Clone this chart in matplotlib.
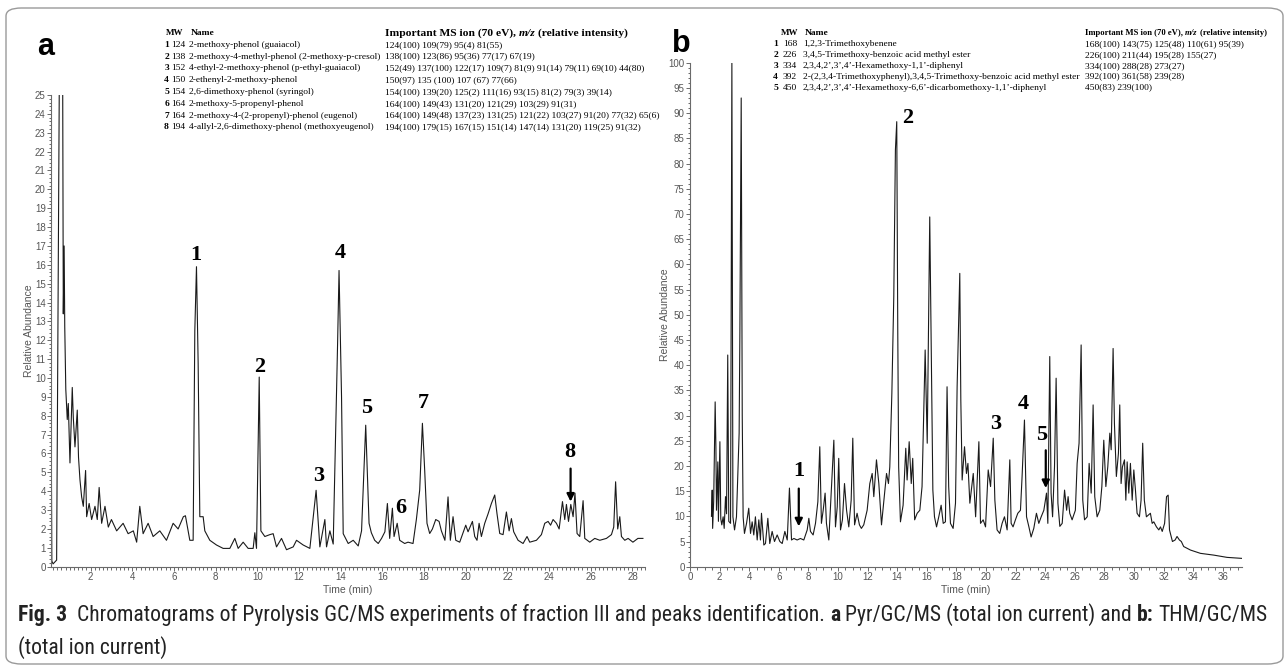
import matplotlib
matplotlib.use("Agg")
import matplotlib.pyplot as plt
from matplotlib import font_manager
from matplotlib.patches import FancyBboxPatch
from matplotlib.ticker import MultipleLocator

W, H = 1285, 668

# ---- data ----
# panel a : Pyr/GC/MS (time in min, relative abundance)
a_time = [0.1, 0.14, 0.2, 0.37, 0.5, 0.66, 0.69, 0.73, 0.76, 0.81, 0.88, 0.93, 1.01, 1.12, 1.17,
          1.25, 1.36, 1.42, 1.49, 1.57, 1.65, 1.76, 1.81, 1.93, 2.05, 2.21, 2.32, 2.41, 2.53, 2.69,
          2.85, 3.0, 3.25, 3.56, 3.8, 4.05, 4.21, 4.36, 4.52, 4.76, 5.0, 5.32, 5.64, 5.96, 6.2,
          6.45, 6.55, 6.76, 6.92, 7.0, 7.08, 7.16, 7.24, 7.4, 7.48, 7.72, 8.04, 8.36, 8.68, 8.92,
          9.08, 9.32, 9.56, 9.8, 9.88, 9.96, 10.09, 10.17, 10.36, 10.6, 10.76, 10.92, 11.16, 11.4,
          11.72, 11.88, 12.2, 12.52, 12.82, 13.0, 13.24, 13.32, 13.48, 13.64, 13.85, 13.92, 14.04,
          14.12, 14.36, 14.6, 14.84, 15.0, 15.2, 15.36, 15.47, 15.63, 15.8, 15.96, 16.12, 16.24,
          16.35, 16.48, 16.56, 16.71, 16.83, 17.07, 17.23, 17.47, 17.63, 17.79, 17.92, 18.03,
          18.14, 18.27, 18.4, 18.56, 18.72, 18.83, 19.0, 19.15, 19.26, 19.39, 19.52, 19.71, 20.0,
          20.11, 20.32, 20.43, 20.54, 20.64, 20.75, 20.91, 21.07, 21.23, 21.39, 21.5, 21.63, 21.79,
          21.95, 22.08, 22.19, 22.3, 22.51, 22.75, 22.94, 23.07, 23.39, 23.63, 23.79, 23.95, 24.07,
          24.19, 24.35, 24.48, 24.64, 24.75, 24.83, 24.93, 25.04, 25.15, 25.24, 25.34, 25.47,
          25.63, 25.71, 25.95, 26.19, 26.43, 26.75, 26.99, 27.1, 27.19, 27.29, 27.39, 27.47,
          27.63, 27.79, 28.02, 28.26, 28.5]
a_abund = [9.4, 0.3, 0.15, 0.35, 26.0, 26.0, 13.4, 17.0, 12.7, 9.4, 7.8, 8.65, 5.5, 9.5, 7.9,
           6.35, 8.3, 5.8, 4.6, 3.7, 3.2, 5.1, 2.65, 3.35, 2.5, 3.2, 2.5, 4.2, 2.3, 3.2,
           2.1, 2.5, 1.9, 2.3, 1.75, 1.9, 1.3, 3.2, 1.75, 2.3, 1.6, 1.9, 1.4, 2.3, 2.0,
           2.65, 2.7, 1.4, 1.4, 12.5, 15.9, 10.8, 2.65, 2.65, 1.9, 1.4, 1.15, 0.97, 0.97, 1.5,
           0.97, 1.3, 0.97, 0.97, 1.8, 0.97, 10.05, 1.9, 1.6, 1.7, 1.75, 1.05, 1.5, 0.9,
           1.05, 1.4, 1.15, 0.97, 4.05, 1.05, 2.5, 1.05, 1.9, 1.2, 11.8, 15.7, 9.0,
           1.75, 1.23, 1.4, 1.1, 1.9, 7.5, 2.3, 1.8, 1.4, 1.23, 1.5, 1.85, 3.35,
           1.5, 3.1, 1.6, 2.3, 1.4, 1.23, 1.3, 1.23, 2.5, 4.06, 7.6, 5.1,
           2.3, 1.76, 2.0, 2.5, 2.4, 1.9, 1.4, 3.7, 1.4, 2.65, 1.4, 1.3, 2.2,
           1.85, 2.4, 1.6, 1.4, 2.3, 1.6, 2.3, 2.8, 3.35, 3.8, 2.8, 1.76, 1.7,
           2.9, 1.9, 2.55, 1.85, 1.4, 1.23, 1.6, 1.3, 1.4, 1.7, 2.3, 2.4, 2.2,
           2.5, 2.3, 2.0, 3.45, 2.5, 3.3, 2.4, 3.3, 2.65, 3.9, 1.76, 1.6,
           3.5, 1.5, 1.3, 1.5, 1.4, 1.5, 1.7, 2.1, 4.5, 2.0, 2.65, 1.6,
           1.4, 1.5, 1.3, 1.5, 1.5]

# panel b : THM/GC/MS
b_time = [1.45, 1.5, 1.53, 1.6, 1.7, 1.75, 1.79, 1.88, 1.92, 2.02, 2.08, 2.15, 2.24, 2.31, 2.4,
          2.47, 2.55, 2.62, 2.74, 2.83, 2.9, 3.01, 3.14, 3.32, 3.37, 3.46, 3.53, 3.59, 3.68, 3.82,
          3.97, 4.09, 4.2, 4.31, 4.42, 4.54, 4.65, 4.76, 4.83, 4.99, 5.1, 5.26, 5.39, 5.55, 5.71,
          5.89, 6.07, 6.23, 6.41, 6.57, 6.72, 6.86, 7.02, 7.24, 7.46, 7.69, 7.92, 8.03, 8.14, 8.32,
          8.48, 8.64, 8.77, 8.88, 9.0, 9.13, 9.22, 9.38, 9.54, 9.72, 9.83, 9.95, 10.05, 10.17,
          10.3, 10.44, 10.58, 10.73, 10.89, 11.0, 11.12, 11.29, 11.45, 11.58, 11.74, 11.97, 12.15,
          12.31, 12.42, 12.6, 12.76, 12.94, 13.1, 13.28, 13.41, 13.5, 13.64, 13.77, 13.88, 13.97,
          14.04, 14.1, 14.22, 14.4, 14.58, 14.67, 14.81, 14.95, 15.05, 15.18, 15.35, 15.53, 15.68,
          15.89, 16.03, 16.2, 16.29, 16.41, 16.52, 16.66, 16.81, 16.97, 17.11, 17.26, 17.37, 17.48,
          17.6, 17.78, 17.94, 18.05, 18.23, 18.3, 18.39, 18.55, 18.68, 18.78, 18.91, 19.14, 19.3,
          19.52, 19.63, 19.81, 19.97, 20.15, 20.31, 20.49, 20.6, 20.75, 20.93, 21.09, 21.25, 21.43,
          21.61, 21.7, 21.83, 21.99, 22.15, 22.33, 22.44, 22.6, 22.74, 22.9, 23.05, 23.23, 23.41,
          23.57, 23.73, 23.91, 24.09, 24.18, 24.31, 24.4, 24.5, 24.63, 24.74, 24.86, 24.99, 25.15,
          25.31, 25.45, 25.55, 25.66, 25.82, 26.04, 26.16, 26.29, 26.43, 26.54, 26.66, 26.84,
          26.97, 27.11, 27.24, 27.35, 27.51, 27.69, 27.83, 27.96, 28.1, 28.23, 28.37, 28.46,
          28.59, 28.68, 28.81, 28.95, 29.04, 29.13, 29.22, 29.36, 29.45, 29.54, 29.65, 29.76,
          29.88, 29.99, 30.1, 30.21, 30.37, 30.48, 30.59, 30.7, 30.84, 31.0, 31.11, 31.23, 31.34,
          31.52, 31.68, 31.79, 31.91, 32.07, 32.2, 32.31, 32.4, 32.6, 32.78, 32.91, 33.07, 33.2,
          33.36, 33.82, 34.49, 35.39, 36.29, 37.3]
b_abund = [10.0, 15.2, 7.6, 13.0, 32.7, 23.8, 11.2, 20.8, 9.0, 24.8, 9.5, 8.3, 9.9, 7.6, 13.9,
           10.5, 42.0, 9.0, 8.6, 100.0, 9.9, 7.3, 9.9, 26.5, 46.3, 93.0, 30.0, 9.9, 6.6, 8.6,
           11.6, 6.6, 8.9, 6.3, 9.9, 5.3, 9.3, 5.3, 10.6, 4.3, 4.6, 9.6, 4.6, 7.0, 5.0,
           6.3, 5.0, 4.6, 7.0, 5.3, 15.6, 5.3, 5.6, 5.3, 5.6, 5.3, 7.3, 9.6, 7.0, 6.3,
           8.6, 12.9, 23.8, 8.6, 11.2, 14.6, 8.6, 5.3, 14.6, 25.1, 7.9, 11.9, 21.5, 7.3,
           9.3, 16.5, 11.2, 7.9, 13.2, 25.5, 8.3, 10.6, 8.3, 7.6, 8.3, 11.2, 16.5,
           18.5, 13.9, 21.2, 16.5, 8.3, 13.2, 18.5, 16.5, 19.8, 34.4, 53.6, 82.7, 88.3,
           46.3, 19.8, 8.9, 12.2, 23.5, 17.2, 24.8, 16.5, 21.5, 9.3, 10.6, 11.2, 15.9,
           43.0, 24.5, 69.4, 46.3, 15.2, 9.9, 7.9, 9.9, 12.2, 8.6, 8.9, 35.7, 15.9,
           8.6, 7.6, 12.6, 35.7, 58.2, 33.0, 17.2, 23.8, 18.5, 20.5, 12.6, 18.5, 9.9,
           24.8, 8.6, 9.3, 7.9, 19.2, 15.9, 25.5, 13.2, 7.3, 6.6, 8.6, 9.9, 7.3,
           21.2, 8.6, 7.9, 9.3, 10.6, 11.2, 17.9, 29.1, 9.9, 7.9, 5.9, 7.6, 10.6,
           8.6, 9.9, 11.2, 14.6, 8.6, 41.7, 14.6, 9.9, 19.8, 37.4, 12.6, 8.0, 8.6,
           15.2, 11.2, 13.9, 10.6, 9.3, 11.2, 20.5, 24.5, 44.0, 13.2, 9.3, 9.9,
           20.5, 14.6, 32.1, 13.9, 9.9, 11.2, 15.9, 25.1, 15.9, 19.8, 26.5, 23.2,
           43.3, 28.4, 17.9, 22.5, 32.1, 16.5, 19.8, 21.2, 13.2, 20.8, 14.6, 20.5,
           13.2, 19.2, 15.2, 10.6, 9.9, 13.2, 24.5, 13.2, 9.9, 10.3, 10.6, 8.6, 8.9,
           7.9, 7.3, 7.9, 7.0, 8.6, 13.9, 14.2, 7.3, 5.0, 5.3, 6.0, 5.3, 5.0,
           4.0, 3.3, 2.65, 2.3, 1.85, 1.65]

# peak labels
a_peak_ids = ['1', '2', '3', '4', '5', '6', '7', '8']
a_peak_t = [7.05, 10.1, 12.92, 14.0, 15.24, 16.87, 17.95, 25.0]
a_peak_y = [16.5, 10.6, 4.8, 16.6, 8.4, 3.1, 8.7, 6.1]
a_arrows = {'8': (25.03, 5.2, 3.45)}

b_peak_ids = ['1', '2', '3', '4', '5']
b_peak_t = [7.35, 14.74, 20.64, 22.51, 23.73]
b_peak_y = [18.9, 89.0, 28.4, 32.3, 26.1]
b_arrows = {'1': (7.35, 15.5, 8.0), '5': (24.04, 23.1, 15.6)}

# identification tables
a_mw = [124, 138, 152, 150, 154, 164, 164, 194]
a_names = ['2-methoxy-phenol (guaiacol)',
           '2-methoxy-4-methyl-phenol (2-methoxy-p-cresol)',
           '4-ethyl-2-methoxy-phenol (p-ethyl-guaiacol)',
           '2-ethenyl-2-methoxy-phenol',
           '2,6-dimethoxy-phenol (syringol)',
           '2-methoxy-5-propenyl-phenol',
           '2-methoxy-4-(2-propenyl)-phenol (eugenol)',
           '4-allyl-2,6-dimethoxy-phenol (methoxyeugenol)']
a_ions = ['124(100) 109(79) 95(4) 81(55)',
          '138(100) 123(86) 95(36) 77(17) 67(19)',
          '152(49) 137(100) 122(17) 109(7) 81(9) 91(14) 79(11) 69(10) 44(80)',
          '150(97) 135 (100) 107 (67) 77(66)',
          '154(100) 139(20) 125(2) 111(16) 93(15) 81(2) 79(3) 39(14)',
          '164(100) 149(43) 131(20) 121(29) 103(29) 91(31)',
          '164(100) 149(48) 137(23) 131(25) 121(22) 103(27) 91(20) 77(32) 65(6)',
          '194(100) 179(15) 167(15) 151(14) 147(14) 131(20) 119(25) 91(32)']

b_mw = [168, 226, 334, 392, 450]
b_names = ['1,2,3-Trimethoxybenene',
           '3,4,5-Trimethoxy-benzoic acid methyl ester',
           '2,3,4,2\u2019,3\u2019,4\u2019-Hexamethoxy-1,1\u2019-diphenyl',
           '2-(2,3,4-Trimethoxyphenyl),3,4,5-Trimethoxy-benzoic acid methyl ester',
           '2,3,4,2\u2019,3\u2019,4\u2019-Hexamethoxy-6,6\u2019-dicarbomethoxy-1,1\u2019-diphenyl']
b_ions = ['168(100) 143(75) 125(48) 110(61) 95(39)',
          '226(100) 211(44) 195(28) 155(27)',
          '334(100) 288(28) 273(27)',
          '392(100) 361(58) 239(28)',
          '450(83) 239(100)']


def pick(*names):
    have = {f.name for f in font_manager.fontManager.ttflist}
    for n in names:
        if n in have:
            return n
    return 'DejaVu Sans'


NARROW = pick('Liberation Sans Narrow', 'Arial Narrow', 'Liberation Sans')
SANS = pick('Liberation Sans', 'Arial')
SERIF = pick('Liberation Serif', 'Times New Roman', 'DejaVu Serif')
CAPF = pick('Liberation Sans Narrow', 'Roboto Condensed', 'Lato', 'Liberation Sans')
plt.rcParams['font.family'] = NARROW

fig = plt.figure(figsize=(W / 100, H / 100), dpi=100)
renderer = fig.canvas.get_renderer()


def rect(x0, y0, x1, y1):
    return [x0 / W, 1 - y1 / H, (x1 - x0) / W, (y1 - y0) / H]


def ftext(x, y, s, **kw):
    return fig.text(x / W, 1 - y / H, s, **kw)


def run(x, y, pieces, size, family, color='black'):
    # draw text pieces of different weight/style side by side
    sp = ftext(0, 0, 'a a', fontsize=size, family=family)
    sp2 = ftext(0, 0, 'aa', fontsize=size, family=family)
    space = sp.get_window_extent(renderer).width - sp2.get_window_extent(renderer).width
    sp.remove()
    sp2.remove()
    out = []
    for s, weight, style in pieces:
        lead = len(s) - len(s.lstrip(' '))
        trail = len(s) - len(s.rstrip(' '))
        x += lead * space
        t = ftext(x, y, s.strip(' '), fontsize=size, family=family, weight=weight,
                  style=style, va='center', ha='left', color=color)
        x += t.get_window_extent(renderer).width + trail * space
        out.append(t)
    return out, x


def run_fit(x, y, pieces, x_end, family, color='black'):
    # same as run, with the size chosen so the line ends at x_end
    texts, xe = run(x, y, pieces, 10.0, family, color)
    for t in texts:
        t.remove()
    size = 10.0 * (x_end - x) / (xe - x)
    run(x, y, pieces, size, family, color)
    return size


ax_a = fig.add_axes(rect(51, 95, 645, 566.7))
ax_b = fig.add_axes(rect(690, 62.7, 1242, 566.7))

ax_a.plot(a_time, a_abund, color='#1a1a1a', lw=0.8)
ax_b.plot(b_time, b_abund, color='#1a1a1a', lw=0.8)

ax_a.set_xlim(0.1, 28.6)
ax_a.set_ylim(0, 25)
ax_a.xaxis.set_major_locator(MultipleLocator(2))
ax_a.xaxis.set_minor_locator(MultipleLocator(0.2))
ax_a.yaxis.set_major_locator(MultipleLocator(1))
ax_a.yaxis.set_minor_locator(MultipleLocator(0.2))

ax_b.set_xlim(0, 37.3)
ax_b.set_ylim(0, 100)
ax_b.xaxis.set_major_locator(MultipleLocator(2))
ax_b.xaxis.set_minor_locator(MultipleLocator(0.5))
ax_b.yaxis.set_major_locator(MultipleLocator(5))
ax_b.yaxis.set_minor_locator(MultipleLocator(1))

for ax, ylab_x in ((ax_a, -0.029), (ax_b, -0.036)):
    for side in ('top', 'right'):
        ax.spines[side].set_visible(False)
    for side in ('left', 'bottom'):
        ax.spines[side].set_color('#6a6a6a')
        ax.spines[side].set_linewidth(0.8)
    ax.tick_params(which='both', direction='out', color='#6a6a6a', labelcolor='#555555',
                   labelsize=7, width=0.7, pad=0.8)
    ax.tick_params(which='major', length=3)
    ax.tick_params(which='minor', length=1.8)
    ax.set_xlabel('Time (min)', fontsize=7.5, color='#555555', labelpad=2)
    ax.set_ylabel('Relative Abundance', fontsize=7.5, color='#555555')
    ax.yaxis.set_label_coords(ylab_x, 0.5)
    ax.patch.set_alpha(0)

for ax, ids, ts, ys, arrows in ((ax_a, a_peak_ids, a_peak_t, a_peak_y, a_arrows),
                                (ax_b, b_peak_ids, b_peak_t, b_peak_y, b_arrows)):
    for lab, t, y in zip(ids, ts, ys):
        ax.text(t, y, lab, family=SERIF, weight='bold', fontsize=16, ha='center', va='center')
        if lab in arrows:
            xa, y0, y1 = arrows[lab]
            ax.annotate('', xy=(xa, y1), xytext=(xa, y0),
                        arrowprops=dict(arrowstyle='-|>', color='black', lw=1.6,
                                        mutation_scale=11, shrinkA=0, shrinkB=0))

# panel letters
ftext(37, 47, 'a', family=SANS, weight='bold', fontsize=22, va='center', ha='left')
ftext(672, 44, 'b', family=SANS, weight='bold', fontsize=22, va='center', ha='left')

# tables
TS = 6.8
head = [('Important MS ion (70 eV), ', 'bold', 'normal'), ('m/z', 'bold', 'italic'),
        (' (relative intensity)', 'bold', 'normal')]

for (xn, xm, xmh, xname, xion, ion_end, y0, dy, mws, names, ions) in (
        (169, 171, 166, 189, 385, 628, 33, 11.8, a_mw, a_names, a_ions),
        (778, 783, 781, 803, 1085, 1267, 33, 10.9, b_mw, b_names, b_ions)):
    ftext(xmh, y0, 'MW', family=SERIF, weight='bold', fontsize=TS - 0.3, va='center', ha='left')
    ftext(xname + 1.5, y0, 'Name', family=SERIF, weight='bold', fontsize=TS, va='center', ha='left')
    run_fit(xion, y0, head, ion_end, SERIF)
    for i, (mw, nm, io) in enumerate(zip(mws, names, ions)):
        y = y0 + dy * (i + 1)
        ftext(xn, y, str(i + 1), family=SERIF, weight='bold', fontsize=TS, va='center', ha='right')
        ftext(xm, y, str(mw), family=SERIF, fontsize=TS, va='center', ha='left')
        ftext(xname, y, nm, family=SERIF, fontsize=TS, va='center', ha='left')
        ftext(xion, y, io, family=SERIF, fontsize=TS, va='center', ha='left')

# caption, scaled so the first line spans the reference width
cap1 = [('Fig. 3', 'bold', 'normal'),
        ('  Chromatograms of Pyrolysis GC/MS experiments of fraction III and peaks identification. ',
         'normal', 'normal'),
        ('a', 'bold', 'normal'), (' Pyr/GC/MS (total ion current) and ', 'normal', 'normal'),
        ('b:', 'bold', 'normal'), (' THM/GC/MS', 'normal', 'normal')]
csize = run_fit(18, 615, cap1, 1268, CAPF, color='#222222')
run(18, 648, [('(total ion current)', 'normal', 'normal')], csize, CAPF, color='#222222')

# rounded frame around the figure
frame = FancyBboxPatch((6 / W, 4 / H), 1 - 8 / W, 1 - 12 / H, transform=fig.transFigure,
                       boxstyle='round,pad=0,rounding_size=0.012', fill=False,
                       edgecolor='#9a9a9a', lw=1.0)
fig.patches.append(frame)

fig.savefig('out.png', dpi=100)
